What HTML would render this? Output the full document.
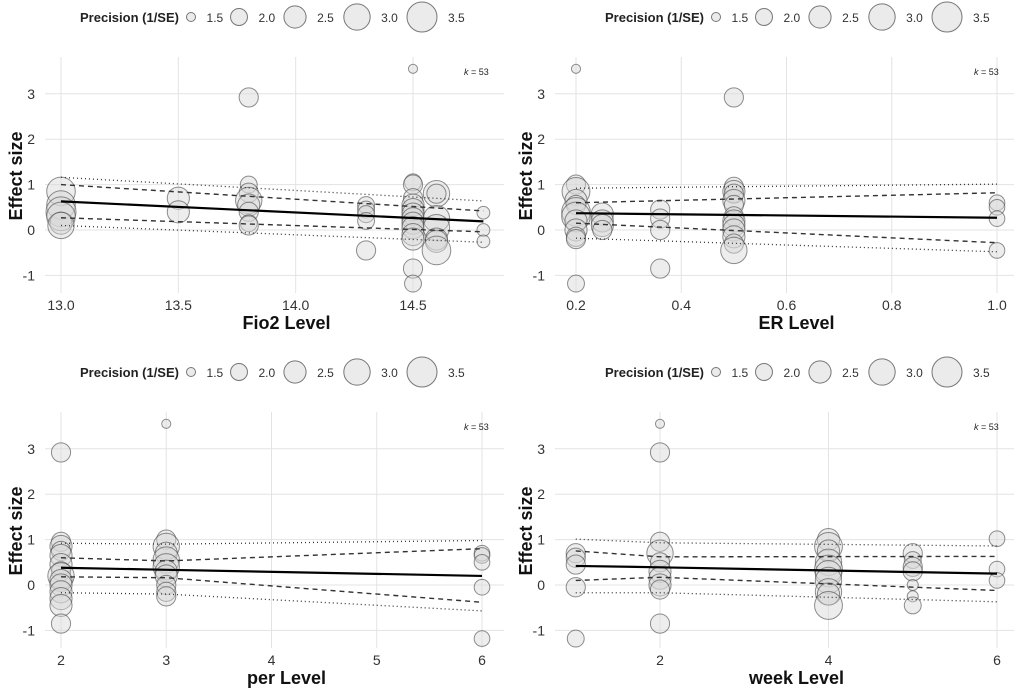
<!DOCTYPE html>
<html><head><meta charset="utf-8">
<style>
body{margin:0;background:#fff;}
svg{display:block;font-family:"Liberation Sans",sans-serif;}
</style></head>
<body>
<svg id="chart" width="1022" height="690" viewBox="0 0 1022 690"></svg>
<script>
// ---------- data ----------
const legendValues = [1.5, 2.0, 2.5, 3.0, 3.5];
const yTicks = [-1, 0, 1, 2, 3];

const fioTicks = [13.0, 13.5, 14.0, 14.5];
const fioTickLabels = ["13.0", "13.5", "14.0", "14.5"];
const fioX = [13,13,13,13,13,13, 13.5,13.5, 13.8,13.8,13.8,13.8,13.8,13.8,13.8,13.8, 14.3,14.3,14.3,14.3,14.3, 14.5,14.5,14.5,14.5,14.5,14.5,14.5,14.5,14.5,14.5,14.5,14.5,14.5,14.5, 14.6,14.6,14.6,14.6,14.6,14.6,14.6, 14.8,14.8,14.8];
const fioY = [0.85,0.55,0.4,0.3,0.15,0.1, 0.7,0.4, 2.92,1.0,0.82,0.65,0.55,0.4,0.15,0.1, 0.55,0.45,0.35,0.2,-0.45, 3.55,1.05,1.0,0.7,0.55,0.45,0.35,0.25,0.15,0.05,-0.1,-0.2,-0.85,-1.18, 0.8,0.8,0.25,0.05,-0.2,-0.25,-0.45, 0.38,0,-0.25];
const fioP = [3.3,3.3,3.5,3.3,2.5,3.0, 2.5,2.5, 2.2,2.0,2.2,3.0,2.5,2.2,2.0,2.2, 2.0,2.0,2.0,2.0,2.2, 1.5,2.0,2.2,2.2,2.5,2.5,2.5,2.5,2.5,2.5,2.5,2.5,2.2,2.0, 3.0,2.2,3.0,3.0,2.5,2.5,3.3, 1.7,1.7,1.7];
const fioFitX = [13.0, 14.8];
const fioFit = [0.63, 0.19];
const fioCiHi = [1.0, 0.42];
const fioCiLo = [0.27, -0.04];
const fioPiHi = [1.16, 0.64];
const fioPiLo = [0.1, -0.27];

const erTicks = [0.2, 0.4, 0.6, 0.8, 1.0];
const erTickLabels = ["0.2", "0.4", "0.6", "0.8", "1.0"];
const erX = [0.2,0.2,0.2,0.2,0.2,0.2,0.2,0.2,0.2,0.2,0.2,0.2, 0.25,0.25,0.25,0.25, 0.36,0.36,0.36,0.36, 0.5,0.5,0.5,0.5,0.5,0.5,0.5,0.5,0.5,0.5,0.5,0.5,0.5, 1,1,1,1];
const erY = [3.55,1.0,0.85,0.65,0.55,0.4,0.3,0.2,0,-0.15,-0.2,-1.18, 0.35,0.2,0.1,0, 0.45,0.25,0,-0.85, 2.92,0.95,0.85,0.8,0.65,0.55,0.3,0.2,0.1,0,-0.15,-0.3,-0.45, 0.6,0.5,0.25,-0.45];
const erP = [1.5,2.2,3.2,2.5,2.2,3.3,3.3,2.5,2.5,2.2,2.2,2.0, 2.5,2.5,2.5,2.2, 2.2,2.2,2.2,2.2, 2.2,2.2,2.5,2.2,2.5,2.2,2.2,2.5,2.5,2.5,2.5,2.2,3.0, 1.9,1.9,1.9,1.9];
const erFitX = [0.2, 1.0];
const erFit = [0.37, 0.27];
const erCiHi = [0.6, 0.82];
const erCiLo = [0.15, -0.28];
const erPiHi = [0.92, 1.01];
const erPiLo = [-0.18, -0.48];

const perTicks = [2, 3, 4, 5, 6];
const perTickLabels = ["2", "3", "4", "5", "6"];
const perX = [2,2,2,2,2,2,2,2,2,2,2,2,2,2, 3,3,3,3,3,3,3,3,3,3,3, 6,6,6,6,6];
const perY = [2.92,0.95,0.85,0.75,0.65,0.45,0.3,0.2,0.1,0,-0.15,-0.3,-0.45,-0.85, 3.55,1.0,0.85,0.7,0.55,0.4,0.3,0.2,0,-0.15,-0.25, 0.7,0.65,0.5,-0.05,-1.18];
const perP = [2.2,2.2,2.5,2.2,2.5,2.5,2.2,3.0,2.5,2.5,2.5,2.5,2.5,2.2, 1.5,2.2,3.0,2.5,3.0,3.0,2.5,2.5,2.2,2.2,2.2, 1.9,1.9,1.9,1.9,1.9];
const perFitX = [2, 3, 6];
const perFit = [0.38, 0.335, 0.2];
const perCiHi = [0.6, 0.53, 0.8];
const perCiLo = [0.18, 0.16, -0.38];
const perPiHi = [0.92, 0.9, 0.98];
const perPiLo = [-0.17, -0.2, -0.57];

const weekTicks = [2, 4, 6];
const weekTickLabels = ["2", "4", "6"];
const weekX = [1,1,1,1,1, 2,2,2,2,2,2,2,2,2,2, 4,4,4,4,4,4,4,4,4,4, 5,5,5,5,5,5,5, 6,6,6];
const weekY = [0.7,0.6,0.45,-0.05,-1.18, 3.55,2.92,0.95,0.7,0.5,0.3,0.15,0,-0.1,-0.85, 1.0,0.85,0.75,0.5,0.35,0.25,0.1,-0.15,-0.2,-0.45, 0.7,0.55,0.4,0.3,0,-0.25,-0.45, 1.02,0.35,0.1];
const weekP = [2.2,2.2,2.2,2.2,2.0, 1.5,2.2,2.2,3.0,2.2,2.5,2.5,2.5,2.2,2.2, 2.5,3.2,2.5,3.0,3.2,3.0,3.0,3.0,2.5,3.2, 2.2,2.0,2.2,2.2,1.6,1.6,2.0, 1.9,1.9,1.9];
const weekFitX = [1, 2, 6];
const weekFit = [0.42, 0.39, 0.25];
const weekCiHi = [0.75, 0.62, 0.63];
const weekCiLo = [0.1, 0.17, -0.12];
const weekPiHi = [1.01, 0.93, 0.86];
const weekPiLo = [-0.17, -0.17, -0.37];

// ---------- drawing ----------
const NS = "http://www.w3.org/2000/svg";
const svg = document.getElementById("chart");
function mk(tag, attrs, parent, text) {
  const e = document.createElementNS(NS, tag);
  for (const k in attrs) e.setAttribute(k, attrs[k]);
  if (text !== undefined) e.textContent = text;
  (parent || svg).appendChild(e);
  return e;
}
function rad(p) { return 15 * Math.sqrt(Math.max(p - 1.3, 0.01) / 2.2); }

const panels = [
  {key:"fio2", ox:0, oy:0, x0:13.0, px0:61, x1:14.5, px1:413, ticks:fioTicks, labels:fioTickLabels, title:"Fio2 Level",
   xs:fioX, ys:fioY, ps:fioP, fx:fioFitX, fit:fioFit, ciH:fioCiHi, ciL:fioCiLo, piH:fioPiHi, piL:fioPiLo},
  {key:"er", ox:510, oy:0, x0:0.2, px0:576, x1:1.0, px1:997, ticks:erTicks, labels:erTickLabels, title:"ER Level",
   xs:erX, ys:erY, ps:erP, fx:erFitX, fit:erFit, ciH:erCiHi, ciL:erCiLo, piH:erPiHi, piL:erPiLo},
  {key:"per", ox:0, oy:355, x0:2, px0:61, x1:6, px1:482, ticks:perTicks, labels:perTickLabels, title:"per Level",
   xs:perX, ys:perY, ps:perP, fx:perFitX, fit:perFit, ciH:perCiHi, ciL:perCiLo, piH:perPiHi, piL:perPiLo},
  {key:"week", ox:510, oy:355, x0:2, px0:660, x1:6, px1:997, ticks:weekTicks, labels:weekTickLabels, title:"week Level",
   xs:weekX, ys:weekY, ps:weekP, fx:weekFitX, fit:weekFit, ciH:weekCiHi, ciL:weekCiLo, piH:weekPiHi, piL:weekPiLo}
];

panels.forEach(pn => {
  const g = mk("g", {});
  
  
  const sx = v => pn.px0 + (v - pn.x0) * (pn.px1 - pn.px0) / (pn.x1 - pn.x0);
  const sy = v => pn.oy + 230 - v * 45.4;
  const left = pn.ox + 45, right = pn.ox + 504, top = pn.oy + 57, bottom = pn.oy + 293;

  // legend
  const lg = mk("g", {}, g);
  
  
  const lx = pn.ox === 0 ? 0 : 15;
  const ly = pn.oy + 17;
  mk("text", {x: pn.ox + lx + 80, y: ly + 5, "font-size": 13, "font-weight": "bold", fill: "#222"}, lg, "Precision (1/SE)");
  const lcx = [191, 239, 295, 357, 422];
  legendValues.forEach((v, i) => {
    const c = mk("circle", {cx: pn.ox + lx + lcx[i], cy: ly, r: rad(v), fill: "#ebebeb", stroke: "#777", "stroke-width": 1}, lg);
    
    
    mk("text", {x: pn.ox + lx + lcx[i] + rad(v) + 11, y: ly + 5, "font-size": 12, fill: "#333"}, lg, v.toFixed(1));
  });

  // grid
  yTicks.forEach(t => {
    mk("line", {x1: left, x2: right, y1: sy(t), y2: sy(t), stroke: "#e3e3e3", "stroke-width": 1}, g);
    const tl = mk("text", {x: left - 10, y: sy(t) + 5, "font-size": 14, "text-anchor": "end", fill: "#333"}, g, String(t));
    
    
  });
  pn.ticks.forEach((t, i) => {
    mk("line", {x1: sx(t), x2: sx(t), y1: top, y2: bottom, stroke: "#e3e3e3", "stroke-width": 1}, g);
    const tl = mk("text", {x: sx(t), y: pn.oy + 310, "font-size": 14, "text-anchor": "middle", fill: "#333"}, g, pn.labels[i]);
    
    
  });

  // points
  pn.xs.forEach((xv, i) => {
    const c = mk("circle", {cx: sx(xv), cy: sy(pn.ys[i]), r: rad(pn.ps[i]), fill: "rgba(215,215,215,0.45)", stroke: "rgba(70,70,70,0.6)", "stroke-width": 1}, g);
    
    
  });

  // lines
  const pts = arr => pn.fx.map((xv, i) => sx(xv) + "," + sy(arr[i])).join(" ");
  [[pn.piH, "1,3", 1.3, "prediction-upper"], [pn.piL, "1,3", 1.3, "prediction-lower"],
   [pn.ciH, "5,4", 1.4, "ci-upper"], [pn.ciL, "5,4", 1.4, "ci-lower"]].forEach(d => {
    const l = mk("polyline", {points: pts(d[0]), fill: "none", stroke: "#333", "stroke-width": d[2], "stroke-dasharray": d[1]}, g);
    
    
  });
  const fl = mk("polyline", {points: pts(pn.fit), fill: "none", stroke: "#000", "stroke-width": 2.2}, g);
  
  

  // annotations
  const k = mk("text", {x: right - 40, y: pn.oy + 75, "font-size": 9, fill: "#222"}, g);
  
  
  mk("tspan", {"font-style": "italic"}, k, "k");
  mk("tspan", {}, k, " = 53");
  const xt = mk("text", {x: (left + right) / 2 + 12, y: pn.oy + 329, "font-size": 18, "font-weight": "bold", "text-anchor": "middle", fill: "#111"}, g, pn.title);
  
  
  const ycx = pn.ox + 22, ycy = pn.oy + 176;
  const yt = mk("text", {x: ycx, y: ycy, "font-size": 18, "font-weight": "bold", "text-anchor": "middle", fill: "#111", transform: "rotate(-90 " + ycx + " " + ycy + ")"}, g, "Effect size");
  
  
});
</script>
</body></html>
